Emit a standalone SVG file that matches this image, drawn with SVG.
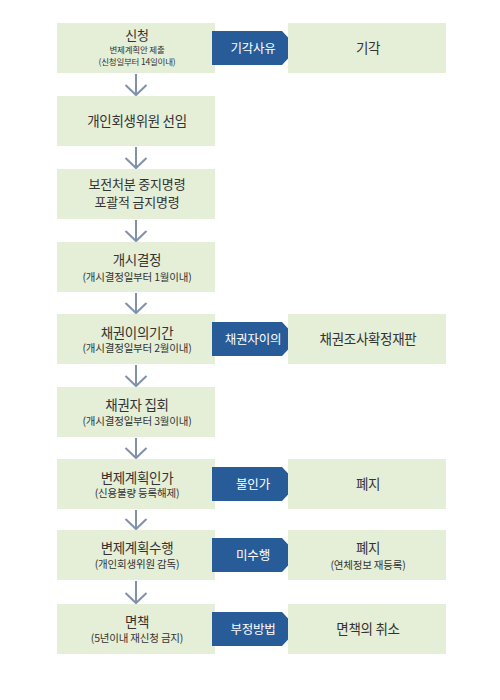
<svg xmlns="http://www.w3.org/2000/svg" width="500" height="700" viewBox="0 0 500 700">
<style>
.box{fill:#e5eed7}
.tag{fill:#275c99}
.t{font-family:"Noto Sans CJK KR","Noto Sans",sans-serif;fill:#333;text-anchor:middle}
.m{font-size:13.5px;letter-spacing:-0.3px}
.m13{font-size:13px;letter-spacing:-0.2px}
.s{font-size:10.5px;letter-spacing:-0.2px}
.s8{font-size:8.5px;letter-spacing:-0.2px}
.w{fill:#fff;font-size:12.5px;letter-spacing:-0.2px}
.flow{stroke:#8092ab;stroke-width:2;fill:none}
</style>
<defs>
<marker id="chev" markerUnits="userSpaceOnUse" orient="auto" refX="0" refY="0" markerWidth="14" markerHeight="24" viewBox="-12 -12 14 24" overflow="visible">
<path d="M-10,-10.5 L0,0 L-10,10.5" fill="none" stroke="#8092ab" stroke-width="2"/>
</marker>
</defs>
<rect width="500" height="700" fill="#fff"/>
<g id="connectors">
<path class="flow" d="M136,74 V95" marker-end="url(#chev)"/>
<path class="flow" d="M136,147 V168" marker-end="url(#chev)"/>
<path class="flow" d="M136,220 V241" marker-end="url(#chev)"/>
<path class="flow" d="M136,293 V313" marker-end="url(#chev)"/>
<path class="flow" d="M136,365 V386" marker-end="url(#chev)"/>
<path class="flow" d="M136,438 V458" marker-end="url(#chev)"/>
<path class="flow" d="M136,510 V529" marker-end="url(#chev)"/>
<path class="flow" d="M136,581 V603" marker-end="url(#chev)"/>
</g>
<g id="n1"><rect class="box" x="57" y="23" width="158" height="50"/>
<text class="t"><tspan class="m13" x="137" y="39.9">신청</tspan><tspan class="s8" x="137" y="52.7">변제계획안 제출</tspan><tspan class="s8" x="137" y="64.7">(신청일부터 14일이내)</tspan></text></g>
<g id="e1"><path class="tag" d="M212,31 H282 L298,48 L282,65 H212 Z"/><text class="t w" x="253" y="52.75">기각사유</text></g>
<g id="r1"><rect class="box" x="288" y="23" width="158" height="50"/><text class="t m" x="368" y="53.1">기각</text></g>
<g id="n2"><rect class="box" x="57" y="96" width="158" height="50"/>
<text class="t m" x="137" y="126.1">개인회생위원 선임</text></g>
<g id="n3"><rect class="box" x="57" y="169" width="158" height="50"/>
<text class="t m13"><tspan x="137" y="188.9">보전처분 중지명령</tspan><tspan x="137" y="207.4">포괄적 금지명령</tspan></text></g>
<g id="n4"><rect class="box" x="57" y="242" width="158" height="50"/>
<text class="t"><tspan class="m" x="137" y="265.1">개시결정</tspan><tspan class="s" x="137" y="280.5">(개시결정일부터 1월이내)</tspan></text></g>
<g id="n5"><rect class="box" x="57" y="314" width="158" height="50"/>
<text class="t"><tspan class="m" x="137" y="337.6">채권이의기간</tspan><tspan class="s" x="137" y="352">(개시결정일부터 2월이내)</tspan></text></g>
<g id="e5"><path class="tag" d="M212,322 H282 L298,339 L282,356 H212 Z"/><text class="t w" x="253" y="343.75">채권자이의</text></g>
<g id="r5"><rect class="box" x="288" y="314" width="158" height="50"/><text class="t m" x="368" y="344.1">채권조사확정재판</text></g>
<g id="n6"><rect class="box" x="57" y="387" width="158" height="50"/>
<text class="t"><tspan class="m" x="137" y="410.1">채권자 집회</tspan><tspan class="s" x="137" y="425">(개시결정일부터 3월이내)</tspan></text></g>
<g id="n7"><rect class="box" x="57" y="459" width="158" height="50"/>
<text class="t"><tspan class="m" x="137" y="482.6">변제계획인가</tspan><tspan class="s" x="137" y="497">(신용불량 등록해제)</tspan></text></g>
<g id="e7"><path class="tag" d="M212,467 H282 L298,484 L282,501 H212 Z"/><text class="t w" x="253" y="488.75">불인가</text></g>
<g id="r7"><rect class="box" x="288" y="459" width="158" height="50"/><text class="t m" x="368" y="489.1">폐지</text></g>
<g id="n8"><rect class="box" x="57" y="530" width="158" height="50"/>
<text class="t"><tspan class="m" x="137" y="553.1">변제계획수행</tspan><tspan class="s" x="137" y="568">(개인회생위원 감독)</tspan></text></g>
<g id="e8"><path class="tag" d="M212,538 H282 L298,555 L282,572 H212 Z"/><text class="t w" x="253" y="559.75">미수행</text></g>
<g id="r8"><rect class="box" x="288" y="530" width="158" height="50"/>
<text class="t"><tspan class="m" x="368" y="553.1">폐지</tspan><tspan class="s" x="368" y="568.5">(연체정보 재등록)</tspan></text></g>
<g id="n9"><rect class="box" x="57" y="604" width="158" height="50"/>
<text class="t"><tspan class="m" x="137" y="627.1">면책</tspan><tspan class="s" x="137" y="642">(5년이내 재신청 금지)</tspan></text></g>
<g id="e9"><path class="tag" d="M212,612 H282 L298,629 L282,646 H212 Z"/><text class="t w" x="253" y="633.75">부정방법</text></g>
<g id="r9"><rect class="box" x="288" y="604" width="158" height="50"/><text class="t m" x="368" y="634.1">면책의 취소</text></g>
</svg>
